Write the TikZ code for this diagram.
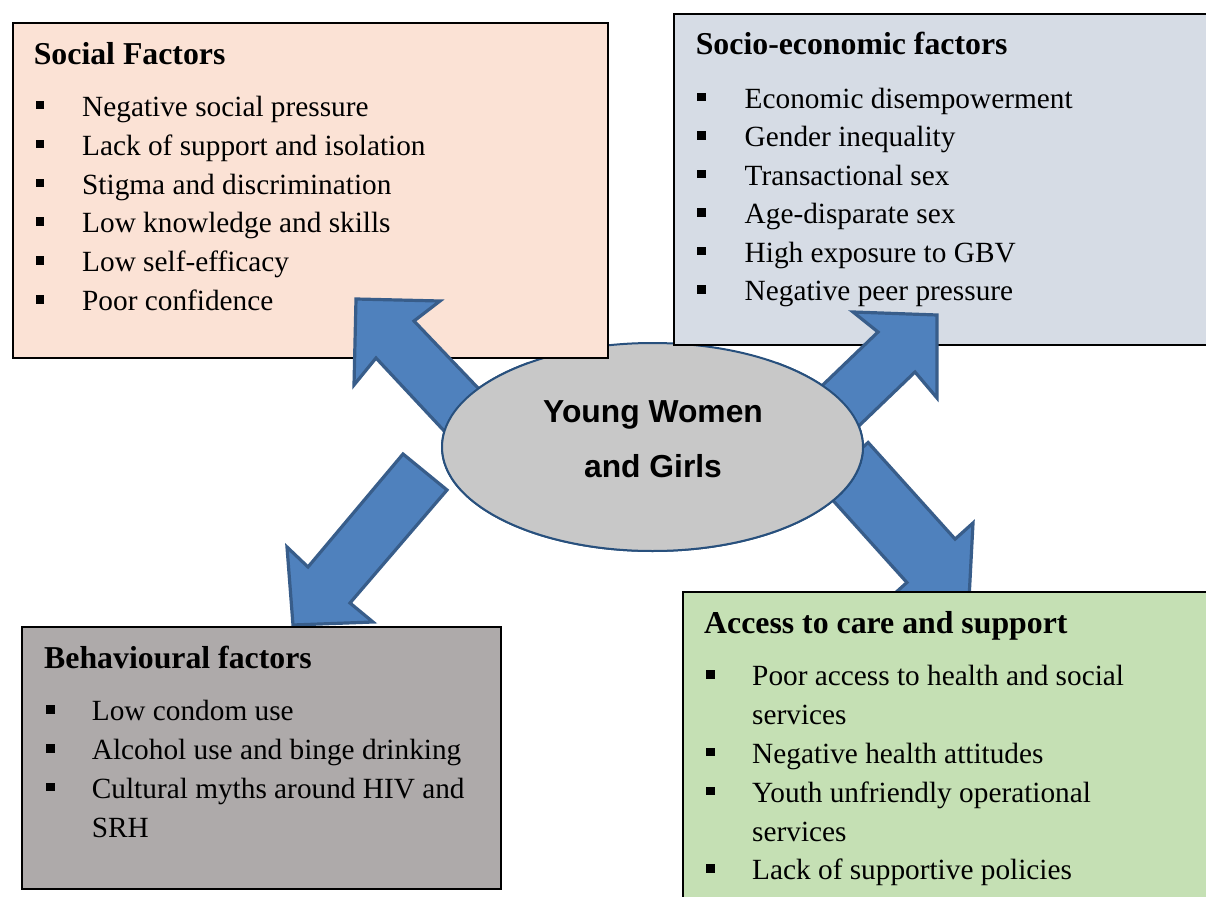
\documentclass[tikz,border=0pt]{standalone}
\usepackage{fontspec}
\setmainfont{Liberation Serif}
\newfontfamily\arialfont{Liberation Sans}
\usetikzlibrary{shapes.geometric}
\definecolor{socialc}{RGB}{251,226,213}
\definecolor{socioc}{RGB}{214,220,229}
\definecolor{behavc}{RGB}{174,170,170}
\definecolor{accessc}{RGB}{197,224,180}
\definecolor{ellfill}{RGB}{200,200,200}
\definecolor{elldraw}{RGB}{40,80,125}
\definecolor{arrfill}{RGB}{79,129,189}
\definecolor{arrdraw}{RGB}{56,93,138}
\newcommand\sqbullet[2]{\fill (#1,#2-14) rectangle ++(8.5,8.5);}
\begin{document}
\begin{tikzpicture}[x=1pt,y=-1pt,
  factorbox/.style={draw=black,line width=2pt,inner sep=0pt,outer sep=0pt,anchor=north west},
  blockarrow/.style={fill=arrfill,draw=arrdraw,line width=3.2pt,line join=miter},
  hub/.style={ellipse,fill=ellfill,draw=elldraw,line width=2pt,minimum width=421pt,minimum height=208pt,inner sep=0pt},
  hubtext/.style={align=center,inner sep=0pt,font=\arialfont\bfseries\fontsize{31.8}{55.3}\selectfont},
  ttl/.style={anchor=base west,inner sep=0pt,yshift=-1.2pt,font=\bfseries\fontsize{31.8}{38}\selectfont},
  itm/.style={anchor=base west,inner sep=0pt,yshift=-1.5pt,font=\fontsize{29.3}{38.8}\selectfont}]
\clip (0,0) rectangle (1206,896);
\fill[white] (0,0) rectangle (1206,896);
% arrows under the hub
\draw[blockarrow] (403,454) -- (308,567) -- (287,547) -- (293,625) -- (373,622) -- (350,603) -- (447,490) -- cycle;
\draw[blockarrow] (868.1,442.5) -- (955.1,539.1) -- (973,523) -- (968.8,602.8) -- (889,598.6) -- (906.9,582.5) -- (820,486) -- cycle;
% hub
\node[hub] (yw) at (652.5,447) {};
% boxes
\node[factorbox,fill=socialc,minimum width=595pt,minimum height=334.7pt] (social) at (12.6,23.3) {};
\node[factorbox,fill=socioc,minimum width=545pt,minimum height=331pt] (socio) at (674,14) {};
\node[factorbox,fill=behavc,minimum width=478.7pt,minimum height=262pt] (behav) at (22.3,627.3) {};
\node[factorbox,fill=accessc,minimum width=535pt,minimum height=320pt] (access) at (682.7,591.7) {};
% arrows over boxes
\draw[blockarrow] (356,299) -- (440,301) -- (414,321) -- (499,410) -- (461,449) -- (376,358) -- (354,385) -- cycle;
\draw[blockarrow] (937,315) -- (937,398) -- (915,372) -- (840,444) -- (803,404) -- (878,332) -- (853,312) -- cycle;
% hub again over arrow tails
\begin{scope}
\clip (0,362) rectangle (1206,600);
\draw[fill=ellfill,draw=elldraw,line width=2pt] (652.5,447) ellipse [x radius=210.5pt, y radius=104pt];
\end{scope}
\node[hubtext] (ywt) at (653,439.5) {Young Women\\and Girls};
% social factors
\node[ttl] (socialt) at (33.6,63.3) {Social Factors};
\node[itm] (s1) at (82,115) {Negative social pressure};
\node[itm] (s2) at (82,153.8) {Lack of support and isolation};
\node[itm] (s3) at (82,192.6) {Stigma and discrimination};
\node[itm] (s4) at (82,231.4) {Low knowledge and skills};
\node[itm] (s5) at (82,270.2) {Low self-efficacy};
\node[itm] (s6) at (82,309) {Poor confidence};
\sqbullet{35.6}{115}\sqbullet{35.6}{153.8}\sqbullet{35.6}{192.6}
\sqbullet{35.6}{231.4}\sqbullet{35.6}{270.2}\sqbullet{35.6}{309}
% socio-economic
\node[ttl] (sociot) at (695.6,53.3) {Socio-economic factors};
\node[itm] (e1) at (744.5,106.7) {Economic disempowerment};
\node[itm] (e2) at (744.5,145.2) {Gender inequality};
\node[itm] (e3) at (744.5,183.7) {Transactional sex};
\node[itm] (e4) at (744.5,222.2) {Age-disparate sex};
\node[itm] (e5) at (744.5,260.7) {High exposure to GBV};
\node[itm] (e6) at (744.5,299.2) {Negative peer pressure};
\sqbullet{697}{106.7}\sqbullet{697}{145.2}\sqbullet{697}{183.7}
\sqbullet{697}{222.2}\sqbullet{697}{260.7}\sqbullet{697}{299.2}
% behavioural
\node[ttl] (behavt) at (44,667.7) {Behavioural factors};
\node[itm] (b1) at (91.7,719.3) {Low condom use};
\node[itm] (b2) at (91.7,758.1) {Alcohol use and binge drinking};
\node[itm] (b3) at (91.7,796.9) {Cultural myths around HIV and};
\node[itm] (b4) at (91.7,835.7) {SRH};
\sqbullet{46}{719.3}\sqbullet{46}{758.1}\sqbullet{46}{796.9}
% access
\node[ttl] (accesst) at (704,632.7) {Access to care and support};
\node[itm] (a1) at (752,684.3) {Poor access to health and social};
\node[itm] (a2) at (752,723.1) {services};
\node[itm] (a3) at (752,761.9) {Negative health attitudes};
\node[itm] (a4) at (752,800.7) {Youth unfriendly operational};
\node[itm] (a5) at (752,839.5) {services};
\node[itm] (a6) at (752,878.3) {Lack of supportive policies};
\sqbullet{706}{684.3}\sqbullet{706}{761.9}\sqbullet{706}{800.7}\sqbullet{706}{878.3}
\end{tikzpicture}
\end{document}
